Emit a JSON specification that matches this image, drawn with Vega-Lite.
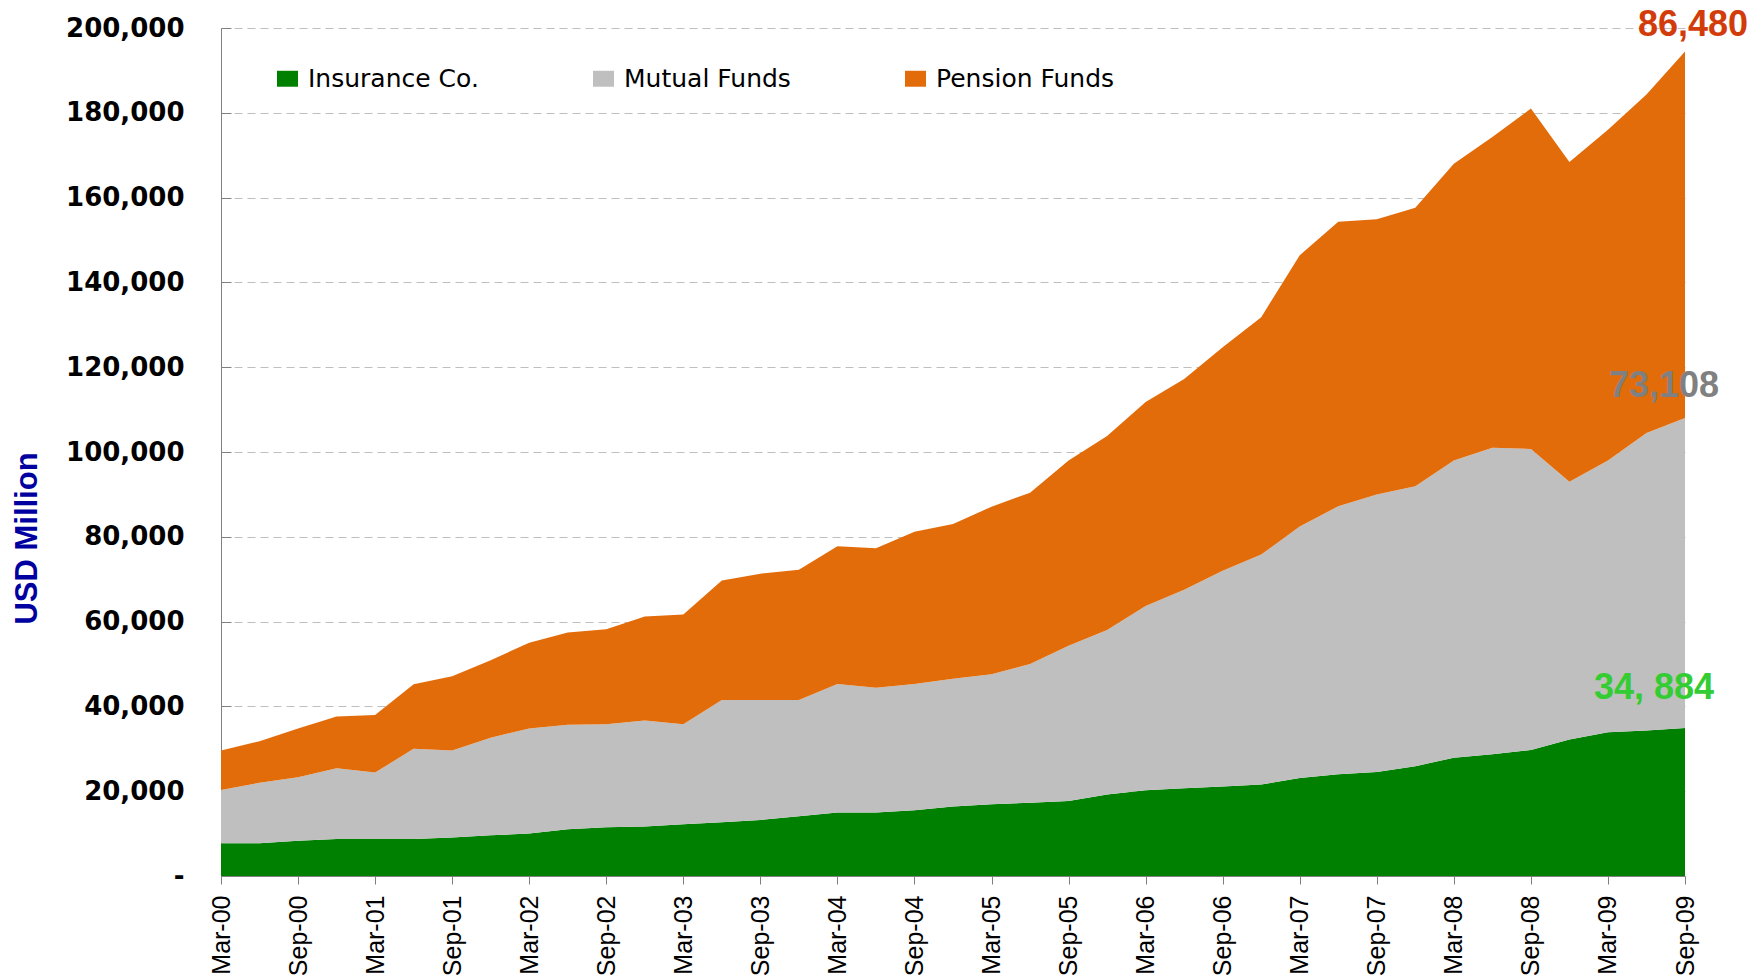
{
  "$schema": "https://vega.github.io/schema/vega-lite/v6.json",
  "width": 1464,
  "height": 848,
  "autosize": {"type": "none"},
  "padding": {"left": 221, "top": 28, "right": 75, "bottom": 102},
  "background": "white",
  "config": {"view": {"stroke": null}},
  "datasets": {
    "ann": [
      {"series": "Insurance Co.", "label": "34, 884"},
      {"series": "Mutual Funds", "label": "73,108"},
      {"series": "Pension Funds", "label": "86,480"}
    ],
    "d": [
      {"q": "Mar-00", "series": "Insurance Co.", "value": 7700},
      {"q": "Mar-00", "series": "Mutual Funds", "value": 12600},
      {"q": "Mar-00", "series": "Pension Funds", "value": 9300},
      {"q": "Jun-00", "series": "Insurance Co.", "value": 7700},
      {"q": "Jun-00", "series": "Mutual Funds", "value": 14300},
      {"q": "Jun-00", "series": "Pension Funds", "value": 9800},
      {"q": "Sep-00", "series": "Insurance Co.", "value": 8300},
      {"q": "Sep-00", "series": "Mutual Funds", "value": 15000},
      {"q": "Sep-00", "series": "Pension Funds", "value": 11500},
      {"q": "Dec-00", "series": "Insurance Co.", "value": 8700},
      {"q": "Dec-00", "series": "Mutual Funds", "value": 16700},
      {"q": "Dec-00", "series": "Pension Funds", "value": 12200},
      {"q": "Mar-01", "series": "Insurance Co.", "value": 8700},
      {"q": "Mar-01", "series": "Mutual Funds", "value": 15700},
      {"q": "Mar-01", "series": "Pension Funds", "value": 13600},
      {"q": "Jun-01", "series": "Insurance Co.", "value": 8700},
      {"q": "Jun-01", "series": "Mutual Funds", "value": 21300},
      {"q": "Jun-01", "series": "Pension Funds", "value": 15200},
      {"q": "Sep-01", "series": "Insurance Co.", "value": 9100},
      {"q": "Sep-01", "series": "Mutual Funds", "value": 20500},
      {"q": "Sep-01", "series": "Pension Funds", "value": 17500},
      {"q": "Dec-01", "series": "Insurance Co.", "value": 9600},
      {"q": "Dec-01", "series": "Mutual Funds", "value": 23000},
      {"q": "Dec-01", "series": "Pension Funds", "value": 18300},
      {"q": "Mar-02", "series": "Insurance Co.", "value": 10000},
      {"q": "Mar-02", "series": "Mutual Funds", "value": 24800},
      {"q": "Mar-02", "series": "Pension Funds", "value": 20200},
      {"q": "Jun-02", "series": "Insurance Co.", "value": 11000},
      {"q": "Jun-02", "series": "Mutual Funds", "value": 24700},
      {"q": "Jun-02", "series": "Pension Funds", "value": 21700},
      {"q": "Sep-02", "series": "Insurance Co.", "value": 11500},
      {"q": "Sep-02", "series": "Mutual Funds", "value": 24300},
      {"q": "Sep-02", "series": "Pension Funds", "value": 22400},
      {"q": "Dec-02", "series": "Insurance Co.", "value": 11700},
      {"q": "Dec-02", "series": "Mutual Funds", "value": 25000},
      {"q": "Dec-02", "series": "Pension Funds", "value": 24500},
      {"q": "Mar-03", "series": "Insurance Co.", "value": 12200},
      {"q": "Mar-03", "series": "Mutual Funds", "value": 23600},
      {"q": "Mar-03", "series": "Pension Funds", "value": 25900},
      {"q": "Jun-03", "series": "Insurance Co.", "value": 12700},
      {"q": "Jun-03", "series": "Mutual Funds", "value": 28800},
      {"q": "Jun-03", "series": "Pension Funds", "value": 28200},
      {"q": "Sep-03", "series": "Insurance Co.", "value": 13200},
      {"q": "Sep-03", "series": "Mutual Funds", "value": 28300},
      {"q": "Sep-03", "series": "Pension Funds", "value": 29800},
      {"q": "Dec-03", "series": "Insurance Co.", "value": 14100},
      {"q": "Dec-03", "series": "Mutual Funds", "value": 27400},
      {"q": "Dec-03", "series": "Pension Funds", "value": 30700},
      {"q": "Mar-04", "series": "Insurance Co.", "value": 15000},
      {"q": "Mar-04", "series": "Mutual Funds", "value": 30300},
      {"q": "Mar-04", "series": "Pension Funds", "value": 32500},
      {"q": "Jun-04", "series": "Insurance Co.", "value": 15000},
      {"q": "Jun-04", "series": "Mutual Funds", "value": 29400},
      {"q": "Jun-04", "series": "Pension Funds", "value": 32900},
      {"q": "Sep-04", "series": "Insurance Co.", "value": 15500},
      {"q": "Sep-04", "series": "Mutual Funds", "value": 29800},
      {"q": "Sep-04", "series": "Pension Funds", "value": 35900},
      {"q": "Dec-04", "series": "Insurance Co.", "value": 16400},
      {"q": "Dec-04", "series": "Mutual Funds", "value": 30100},
      {"q": "Dec-04", "series": "Pension Funds", "value": 36500},
      {"q": "Mar-05", "series": "Insurance Co.", "value": 16900},
      {"q": "Mar-05", "series": "Mutual Funds", "value": 30700},
      {"q": "Mar-05", "series": "Pension Funds", "value": 39500},
      {"q": "Jun-05", "series": "Insurance Co.", "value": 17300},
      {"q": "Jun-05", "series": "Mutual Funds", "value": 32700},
      {"q": "Jun-05", "series": "Pension Funds", "value": 40400},
      {"q": "Sep-05", "series": "Insurance Co.", "value": 17700},
      {"q": "Sep-05", "series": "Mutual Funds", "value": 36600},
      {"q": "Sep-05", "series": "Pension Funds", "value": 43700},
      {"q": "Dec-05", "series": "Insurance Co.", "value": 19200},
      {"q": "Dec-05", "series": "Mutual Funds", "value": 38800},
      {"q": "Dec-05", "series": "Pension Funds", "value": 45800},
      {"q": "Mar-06", "series": "Insurance Co.", "value": 20200},
      {"q": "Mar-06", "series": "Mutual Funds", "value": 43500},
      {"q": "Mar-06", "series": "Pension Funds", "value": 48100},
      {"q": "Jun-06", "series": "Insurance Co.", "value": 20700},
      {"q": "Jun-06", "series": "Mutual Funds", "value": 46800},
      {"q": "Jun-06", "series": "Pension Funds", "value": 49700},
      {"q": "Sep-06", "series": "Insurance Co.", "value": 21100},
      {"q": "Sep-06", "series": "Mutual Funds", "value": 50900},
      {"q": "Sep-06", "series": "Pension Funds", "value": 52700},
      {"q": "Dec-06", "series": "Insurance Co.", "value": 21600},
      {"q": "Dec-06", "series": "Mutual Funds", "value": 54200},
      {"q": "Dec-06", "series": "Pension Funds", "value": 56000},
      {"q": "Mar-07", "series": "Insurance Co.", "value": 23100},
      {"q": "Mar-07", "series": "Mutual Funds", "value": 59300},
      {"q": "Mar-07", "series": "Pension Funds", "value": 64000},
      {"q": "Jun-07", "series": "Insurance Co.", "value": 24000},
      {"q": "Jun-07", "series": "Mutual Funds", "value": 63200},
      {"q": "Jun-07", "series": "Pension Funds", "value": 67100},
      {"q": "Sep-07", "series": "Insurance Co.", "value": 24500},
      {"q": "Sep-07", "series": "Mutual Funds", "value": 65500},
      {"q": "Sep-07", "series": "Pension Funds", "value": 64900},
      {"q": "Dec-07", "series": "Insurance Co.", "value": 25900},
      {"q": "Dec-07", "series": "Mutual Funds", "value": 66000},
      {"q": "Dec-07", "series": "Pension Funds", "value": 65700},
      {"q": "Mar-08", "series": "Insurance Co.", "value": 27900},
      {"q": "Mar-08", "series": "Mutual Funds", "value": 70100},
      {"q": "Mar-08", "series": "Pension Funds", "value": 70000},
      {"q": "Jun-08", "series": "Insurance Co.", "value": 28700},
      {"q": "Jun-08", "series": "Mutual Funds", "value": 72300},
      {"q": "Jun-08", "series": "Pension Funds", "value": 73300},
      {"q": "Sep-08", "series": "Insurance Co.", "value": 29700},
      {"q": "Sep-08", "series": "Mutual Funds", "value": 71000},
      {"q": "Sep-08", "series": "Pension Funds", "value": 80300},
      {"q": "Dec-08", "series": "Insurance Co.", "value": 32200},
      {"q": "Dec-08", "series": "Mutual Funds", "value": 60800},
      {"q": "Dec-08", "series": "Pension Funds", "value": 75400},
      {"q": "Mar-09", "series": "Insurance Co.", "value": 33900},
      {"q": "Mar-09", "series": "Mutual Funds", "value": 64100},
      {"q": "Mar-09", "series": "Pension Funds", "value": 78000},
      {"q": "Jun-09", "series": "Insurance Co.", "value": 34300},
      {"q": "Jun-09", "series": "Mutual Funds", "value": 70200},
      {"q": "Jun-09", "series": "Pension Funds", "value": 79800},
      {"q": "Sep-09", "series": "Insurance Co.", "value": 34884},
      {"q": "Sep-09", "series": "Mutual Funds", "value": 73108},
      {"q": "Sep-09", "series": "Pension Funds", "value": 86480}
    ]
  },
  "layer": [
    {
      "data": {"name": "d"},
      "mark": {"type": "area", "opacity": 1},
      "encoding": {
        "x": {
          "field": "q", "type": "ordinal", "sort": null,
          "scale": {"type": "point", "padding": 0,
            "domain": ["Mar-00","Jun-00","Sep-00","Dec-00","Mar-01","Jun-01","Sep-01","Dec-01","Mar-02","Jun-02","Sep-02","Dec-02","Mar-03","Jun-03","Sep-03","Dec-03","Mar-04","Jun-04","Sep-04","Dec-04","Mar-05","Jun-05","Sep-05","Dec-05","Mar-06","Jun-06","Sep-06","Dec-06","Mar-07","Jun-07","Sep-07","Dec-07","Mar-08","Jun-08","Sep-08","Dec-08","Mar-09","Jun-09","Sep-09"]},
          "axis": {
            "title": null,
            "values": ["Mar-00","Sep-00","Mar-01","Sep-01","Mar-02","Sep-02","Mar-03","Sep-03","Mar-04","Sep-04","Mar-05","Sep-05","Mar-06","Sep-06","Mar-07","Sep-07","Mar-08","Sep-08","Mar-09","Sep-09"],
            "labelAngle": -90,
            "labelFont": "Liberation Sans",
            "labelFontSize": 25,
            "labelColor": "black",
            "labelPadding": 11,
            "labelOverlap": false,
            "labelBound": false,
            "tickSize": 8,
            "tickColor": "#808080",
            "domainColor": "#808080",
            "grid": false,
            "zindex": 1
          }
        },
        "y": {
          "field": "value", "type": "quantitative", "stack": "zero",
          "scale": {"domain": [0, 200000], "nice": false},
          "axis": {
            "title": "USD Million",
            "values": [0,20000,40000,60000,80000,100000,120000,140000,160000,180000,200000],
            "labelExpr": "datum.value === 0 ? '-' : format(datum.value, ',')",
            "labelFont": "DejaVu Sans",
            "labelFontWeight": "bold",
            "labelFontSize": 26,
            "labelColor": "black",
            "labelPadding": 47,
            "tickSize": -10,
            "tickColor": "#808080",
            "domainColor": "#808080",
            "grid": true,
            "gridColor": "#BFBFBF",
            "gridDash": [8, 5],
            "titleFont": "Liberation Sans",
            "titleFontSize": 31,
            "titleFontWeight": "bold",
            "titleColor": "#0000A0",
            "titleAngle": -90,
            "titleX": -194,
            "titleY": 510,
            "titleAlign": "center",
            "titleBaseline": "middle"
          }
        },
        "order": {"field": "series", "type": "nominal", "sort": "ascending"},
        "color": {
          "field": "series", "type": "nominal",
          "scale": {"domain": ["Insurance Co.", "Mutual Funds", "Pension Funds"], "range": ["#008000", "#BFBFBF", "#E36C0A"]},
          "legend": {
            "title": null,
            "orient": "none",
            "legendX": 54,
            "legendY": 38,
            "direction": "horizontal",
            "symbolType": "M-1,-0.76H1V0.76H-1Z",
            "symbolSize": 441,
            "symbolStrokeWidth": 0,
            "symbolOpacity": 1,
            "labelFont": "DejaVu Sans",
            "labelFontSize": 25,
            "labelColor": "black",
            "labelOffset": 8,
            "labelLimit": 400,
            "columnPadding": 112,
            "padding": 0
          }
        }
      }
    },
    {
      "data": {"name": "d"},
      "transform": [
        {"filter": "datum.q === 'Sep-09'"},
        {"stack": "value", "groupby": ["q"], "sort": [{"field": "series", "order": "ascending"}], "as": ["v0", "v1"]},
        {"filter": "datum.series === 'Pension Funds'"},
        {"lookup": "series", "from": {"data": {"name": "ann"}, "key": "series", "fields": ["label"]}}
      ],
      "mark": {"type": "text", "font": "Liberation Sans", "fontWeight": "bold", "fontSize": 36, "align": "center", "baseline": "alphabetic", "dx": 8, "dy": -15, "color": "#D23C0A"},
      "encoding": {
        "x": {"field": "q", "type": "ordinal", "sort": null},
        "y": {"field": "v1", "type": "quantitative", "title": "USD Million"},
        "text": {"field": "label"}
      }
    },
    {
      "data": {"name": "d"},
      "transform": [
        {"filter": "datum.q === 'Sep-09'"},
        {"stack": "value", "groupby": ["q"], "sort": [{"field": "series", "order": "ascending"}], "as": ["v0", "v1"]},
        {"filter": "datum.series === 'Mutual Funds'"},
        {"lookup": "series", "from": {"data": {"name": "ann"}, "key": "series", "fields": ["label"]}}
      ],
      "mark": {"type": "text", "font": "Liberation Sans", "fontWeight": "bold", "fontSize": 36, "align": "center", "baseline": "alphabetic", "dx": -21, "dy": -21, "color": "#808080"},
      "encoding": {
        "x": {"field": "q", "type": "ordinal", "sort": null},
        "y": {"field": "v1", "type": "quantitative", "title": "USD Million"},
        "text": {"field": "label"}
      }
    },
    {
      "data": {"name": "d"},
      "transform": [
        {"filter": "datum.q === 'Sep-09'"},
        {"stack": "value", "groupby": ["q"], "sort": [{"field": "series", "order": "ascending"}], "as": ["v0", "v1"]},
        {"filter": "datum.series === 'Insurance Co.'"},
        {"lookup": "series", "from": {"data": {"name": "ann"}, "key": "series", "fields": ["label"]}}
      ],
      "mark": {"type": "text", "font": "Liberation Sans", "fontWeight": "bold", "fontSize": 36, "align": "center", "baseline": "alphabetic", "dx": -31, "dy": -29, "color": "#33CC33"},
      "encoding": {
        "x": {"field": "q", "type": "ordinal", "sort": null},
        "y": {"field": "v1", "type": "quantitative", "title": "USD Million"},
        "text": {"field": "label"}
      }
    }
  ]
}
